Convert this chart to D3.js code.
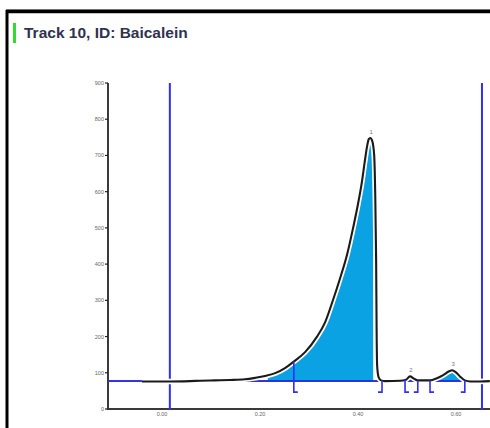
<!DOCTYPE html>
<html>
<head>
<meta charset="utf-8">
<script src="https://cdn.jsdelivr.net/npm/d3@7"></script>
<style>
  html, body { margin: 0; padding: 0; background: #fff; }
  svg { display: block; }
</style>
</head>
<body>
<svg id="chart" width="490" height="428"></svg>
<script>
// Densitogram of track 10 (Baicalein): Rf position vs. signal intensity
const title = "Track 10, ID: Baicalein";

// scanned signal, as [Rf, intensity] pairs
const scanRf = [-0.041, 0.016, 0.057, 0.078, 0.108, 0.139, 0.169, 0.190, 0.210, 0.231,
  0.251, 0.271, 0.292, 0.316, 0.333, 0.349, 0.363, 0.378, 0.390, 0.400,
  0.408, 0.414, 0.418, 0.422, 0.425, 0.429, 0.433, 0.435, 0.437, 0.438,
  0.439, 0.442, 0.447, 0.455, 0.486, 0.498, 0.506, 0.514, 0.522, 0.547,
  0.561, 0.573, 0.586, 0.592, 0.600, 0.608, 0.618, 0.629, 0.649, 0.669];
const scanSignal = [76, 76, 77, 78, 79, 80, 82, 86, 91, 99,
  113, 133, 157, 199, 240, 301, 359, 428, 500, 566,
  627, 685, 721, 745, 748, 740, 701, 605, 411, 218,
  121, 88, 79, 77, 78, 81, 90, 84, 79, 79,
  85, 93, 104, 107, 101, 90, 79, 76, 76, 77];

const baselineLevel = 77;

// integrated peaks
const peakNames = ["1", "2", "3"];
const peakStart = [0.269, 0.496, 0.547];
const peakEnd = [0.449, 0.522, 0.618];
const peakMaxRf = [0.425, 0.506, 0.592];
const peakMax = [748, 90, 107];
const fillStart = [0.216, 0.502, 0.561];
const fillEnd = [0.431, 0.510, 0.612];

// start / end of the analysis window
const windowRf = [0.016, 0.653];

const yTicks = [0, 100, 200, 300, 400, 500, 600, 700, 800, 900];
const xTicks = [0.0, 0.2, 0.4, 0.6];

const svg = d3.select("#chart");
const x = d3.scaleLinear().domain([0, 0.6]).range([162, 456]);
const y = d3.scaleLinear().domain([0, 900]).range([409, 83]);

const scan = scanRf.map((r, i) => ({ rf: r, v: scanSignal[i] }));

// frame
svg.append("line").attr("x1", 6).attr("x2", 490).attr("y1", 9.5).attr("y2", 9.5)
  .attr("stroke", "#999").attr("stroke-width", 1);
svg.append("line").attr("x1", 6).attr("x2", 490).attr("y1", 11.5).attr("y2", 11.5)
  .attr("stroke", "#000").attr("stroke-width", 3.5);
svg.append("line").attr("x1", 7).attr("x2", 7).attr("y1", 10).attr("y2", 428)
  .attr("stroke", "#000").attr("stroke-width", 3);

// title with marker
svg.append("rect").attr("x", 13).attr("y", 23).attr("width", 3).attr("height", 20)
  .attr("fill", "#2fdc2f");
svg.append("text").attr("x", 24).attr("y", 38).text(title)
  .attr("font-family", "Liberation Sans, Arial, sans-serif")
  .attr("font-size", 15.5).attr("font-weight", "bold")
  .attr("fill", "#30324e");

// peak fills
const area = d3.area().x(d => x(d.rf)).y0(y(baselineLevel)).y1(d => y(d.v))
  .curve(d3.curveMonotoneX);
const defs = svg.append("defs");
peakNames.forEach((p, i) => {
  defs.append("clipPath").attr("id", "peak" + i).append("rect")
    .attr("x", x(fillStart[i])).attr("width", x(fillEnd[i]) - x(fillStart[i]))
    .attr("y", 0).attr("height", y(baselineLevel));
  svg.append("path").datum(scan).attr("d", area)
    .attr("clip-path", `url(#peak${i})`)
    .attr("fill", "#0aa2e2");
});

// axes
const axisColor = "#3a3a3a";
svg.append("line").attr("x1", 108).attr("x2", 108).attr("y1", y(900)).attr("y2", y(0))
  .attr("stroke", axisColor).attr("stroke-width", 2);
svg.append("line").attr("x1", 107).attr("x2", 490).attr("y1", y(0)).attr("y2", y(0))
  .attr("stroke", axisColor).attr("stroke-width", 2);
const yAxis = svg.append("g");
yTicks.forEach(t => {
  yAxis.append("line").attr("x1", 105).attr("x2", 108).attr("y1", y(t)).attr("y2", y(t))
    .attr("stroke", "#222").attr("stroke-width", 1.2);
  yAxis.append("text").attr("x", 104).attr("y", y(t) + 2).text(t)
    .attr("text-anchor", "end").attr("font-family", "Liberation Sans, Arial, sans-serif")
    .attr("font-size", 5.5).attr("fill", "#666");
});
const xAxis = svg.append("g");
xTicks.forEach(t => {
  xAxis.append("text").attr("x", x(t)).attr("y", y(0) + 7).text(t.toFixed(2))
    .attr("text-anchor", "middle").attr("font-family", "Liberation Sans, Arial, sans-serif")
    .attr("font-size", 5.5).attr("fill", "#666");
});

// baseline
const blue = "#2f2ff6";
svg.append("line").attr("x1", 108).attr("x2", 490).attr("y1", y(baselineLevel)).attr("y2", y(baselineLevel))
  .attr("stroke", "#222").attr("stroke-width", 1.6);
svg.append("line").attr("x1", 108).attr("x2", x(peakEnd[2]) - 2).attr("y1", y(baselineLevel)).attr("y2", y(baselineLevel))
  .attr("stroke", blue).attr("stroke-width", 1.6);

// analysis window limits
windowRf.forEach(r => {
  svg.append("line").attr("x1", x(r)).attr("x2", x(r)).attr("y1", y(900)).attr("y2", y(0) + 1)
    .attr("stroke", blue).attr("stroke-width", 2);
});

// scan curve with white halo
const line = d3.line().x(d => x(d.rf)).y(d => y(d.v)).curve(d3.curveMonotoneX);
svg.append("path").datum(scan).attr("d", line)
  .attr("fill", "none").attr("stroke", "#fff").attr("stroke-width", 5.5);
svg.append("path").datum(scan).attr("d", line)
  .attr("fill", "none").attr("stroke", "#1a1a1a").attr("stroke-width", 2.1);

// integration markers
const signalAt = r => {
  const i = d3.bisector(d => d.rf).left(scan, r);
  const a = scan[Math.max(0, i - 1)], b = scan[Math.min(scan.length - 1, i)];
  const t = b.rf === a.rf ? 0 : (r - a.rf) / (b.rf - a.rf);
  return a.v + t * (b.v - a.v);
};
const markDepth = 11;
peakNames.forEach((p, i) => {
  [[peakStart[i], 1], [peakEnd[i], -1]].forEach(([r, dir]) => {
    const px = x(r);
    const top = Math.min(y(signalAt(r)), y(baselineLevel));
    const bottom = y(baselineLevel) + markDepth;
    svg.append("path")
      .attr("d", `M${px},${top}V${bottom}h${dir * 4}`)
      .attr("fill", "none").attr("stroke", blue).attr("stroke-width", 1.6);
  });
  svg.append("text").attr("x", x(peakMaxRf[i]) + 1).attr("y", y(peakMax[i]) - 4)
    .text(p).attr("text-anchor", "middle")
    .attr("font-family", "Liberation Sans, Arial, sans-serif")
    .attr("font-size", 6).attr("fill", "#6b7890");
});
</script>
</body>
</html>
